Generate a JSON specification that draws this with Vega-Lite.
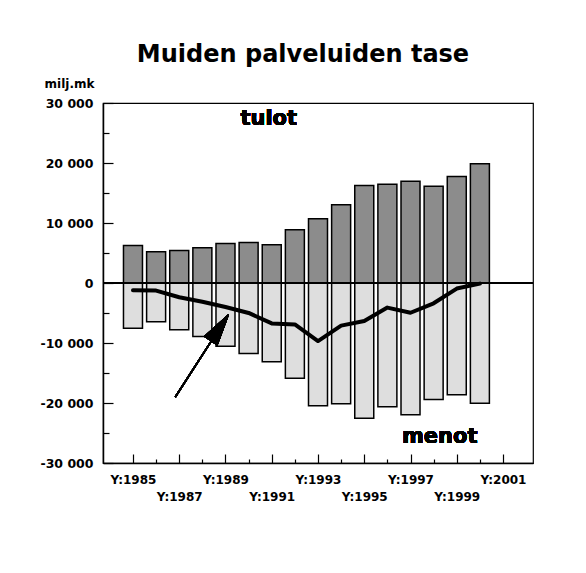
{
  "$schema": "https://vega.github.io/schema/vega-lite/v6.json",
  "width": 430,
  "height": 360,
  "autosize": {"type": "none"},
  "padding": {"left": 103, "top": 103, "right": 53, "bottom": 110},
  "background": "white",
  "config": {
    "font": "DejaVu Sans",
    "view": {"stroke": "black", "strokeWidth": 1.2},
    "axis": {"grid": false, "domainColor": "black", "domainWidth": 1.5, "tickColor": "black", "tickWidth": 1.2, "labelColor": "black", "labelFont": "DejaVu Sans", "labelFontWeight": "bold"}
  },
  "title": {
    "text": "Muiden palveluiden tase",
    "font": "DejaVu Sans",
    "fontSize": 24,
    "fontWeight": "bold",
    "color": "black",
    "anchor": "middle",
    "frame": "group",
    "dx": -15,
    "offset": 10
  },
  "data": {
    "values": [
      {"year": 1985, "tulot": 6250, "menot": -7530, "tase": -1200},
      {"year": 1986, "tulot": 5200, "menot": -6470, "tase": -1260},
      {"year": 1987, "tulot": 5420, "menot": -7800, "tase": -2370},
      {"year": 1988, "tulot": 5870, "menot": -8920, "tase": -3120},
      {"year": 1989, "tulot": 6580, "menot": -10530, "tase": -3990},
      {"year": 1990, "tulot": 6750, "menot": -11750, "tase": -4990},
      {"year": 1991, "tulot": 6370, "menot": -13140, "tase": -6740},
      {"year": 1992, "tulot": 8870, "menot": -15860, "tase": -6900},
      {"year": 1993, "tulot": 10700, "menot": -20470, "tase": -9680},
      {"year": 1994, "tulot": 13030, "menot": -20140, "tase": -7100},
      {"year": 1995, "tulot": 16250, "menot": -22530, "tase": -6320},
      {"year": 1996, "tulot": 16470, "menot": -20640, "tase": -4100},
      {"year": 1997, "tulot": 16970, "menot": -21970, "tase": -4960},
      {"year": 1998, "tulot": 16140, "menot": -19420, "tase": -3380},
      {"year": 1999, "tulot": 17750, "menot": -18640, "tase": -930},
      {"year": 2000, "tulot": 19870, "menot": -20030, "tase": -100}
    ]
  },
  "resolve": {"axis": {"x": "independent", "y": "independent"}},
  "layer": [
    {
      "mark": {"type": "bar", "size": 19, "fill": "#8c8c8c", "stroke": "black", "strokeWidth": 1.5},
      "encoding": {
        "x": {
          "field": "year", "type": "quantitative",
          "scale": {"domain": [1983.92, 2002.08], "nice": false, "zero": false},
          "axis": {
            "orient": "bottom", "title": null,
            "values": [1985, 1989, 1993, 1997, 2001],
            "tickSize": -9, "labelPadding": 20, "labelFontSize": 12,
            "labelExpr": "'Y:' + datum.value",
            "labelFlush": false, "labelOverlap": false
          }
        },
        "y": {
          "field": "tulot", "type": "quantitative",
          "scale": {"domain": [-30000, 30000], "nice": false, "zero": false},
          "axis": {
            "orient": "left",
            "values": [-30000, -20000, -10000, 0, 10000, 20000, 30000],
            "tickSize": -10, "labelPadding": 20, "labelFontSize": 12.5,
            "labelExpr": "(datum.value < 0 ? '-' : '') + replace(format(abs(datum.value), ','), ',', ' ')",
            "labelFlush": false, "labelOverlap": false,
            "title": "milj.mk", "titleAngle": 0, "titleAlign": "right", "titleBaseline": "middle",
            "titleX": -9, "titleY": -20, "titleFont": "DejaVu Sans", "titleFontSize": 12, "titleFontWeight": "bold", "titleColor": "black"
          }
        }
      }
    },
    {
      "mark": {"type": "bar", "size": 19, "fill": "#dedede", "stroke": "black", "strokeWidth": 1.5},
      "encoding": {
        "x": {
          "field": "year", "type": "quantitative",
          "axis": {
            "orient": "bottom", "title": null, "labels": false, "domain": false,
            "values": [1986, 1988, 1990, 1992, 1994, 1996, 1998, 2000],
            "tickSize": -4
          }
        },
        "y": {
          "field": "menot", "type": "quantitative",
          "axis": {
            "orient": "left", "title": null, "labels": false, "domain": false,
            "values": [-25000, -15000, -5000, 5000, 15000, 25000],
            "tickSize": -6
          }
        }
      }
    },
    {
      "mark": {"type": "rule", "stroke": "black", "strokeWidth": 1.5},
      "encoding": {"y": {"datum": 0, "type": "quantitative", "axis": null}}
    },
    {
      "mark": {"type": "line", "stroke": "black", "strokeWidth": 4, "strokeJoin": "round", "strokeCap": "round"},
      "encoding": {
        "x": {
          "field": "year", "type": "quantitative",
          "axis": {
            "orient": "bottom", "title": null, "domain": false,
            "values": [1987, 1991, 1995, 1999],
            "tickSize": -9, "labelPadding": 37, "labelFontSize": 12,
            "labelExpr": "'Y:' + datum.value",
            "labelFlush": false, "labelOverlap": false
          }
        },
        "y": {"field": "tase", "type": "quantitative", "axis": null}
      }
    },
    {
      "mark": {"type": "rule", "stroke": "black", "strokeWidth": 1.5},
      "encoding": {
        "x": {"datum": 1986.83, "type": "quantitative", "axis": null},
        "x2": {"datum": 1988.4},
        "y": {"datum": -19000, "type": "quantitative", "axis": null},
        "y2": {"datum": -9600}
      }
    },
    {
      "mark": {"type": "point", "shape": "M0,-1L0.485,1L-0.485,1Z", "size": 1000, "angle": 34, "filled": true, "fill": "black", "stroke": "black", "strokeWidth": 1, "opacity": 1},
      "encoding": {
        "x": {"datum": 1988.75, "type": "quantitative", "axis": null},
        "y": {"datum": -7450, "type": "quantitative", "axis": null}
      }
    },
    {
      "mark": {"type": "text", "text": "tulot", "font": "DejaVu Sans", "fontSize": 21, "fontWeight": "bold", "fill": "black", "align": "center", "baseline": "middle"},
      "encoding": {
        "x": {"datum": 1990.87, "type": "quantitative", "axis": null},
        "y": {"datum": 27400, "type": "quantitative", "axis": null}
      }
    },
    {
      "mark": {"type": "text", "text": "menot", "font": "DejaVu Sans", "fontSize": 21, "fontWeight": "bold", "fill": "black", "align": "center", "baseline": "middle"},
      "encoding": {
        "x": {"datum": 1998.26, "type": "quantitative", "axis": null},
        "y": {"datum": -25720, "type": "quantitative", "axis": null}
      }
    }
  ]
}
